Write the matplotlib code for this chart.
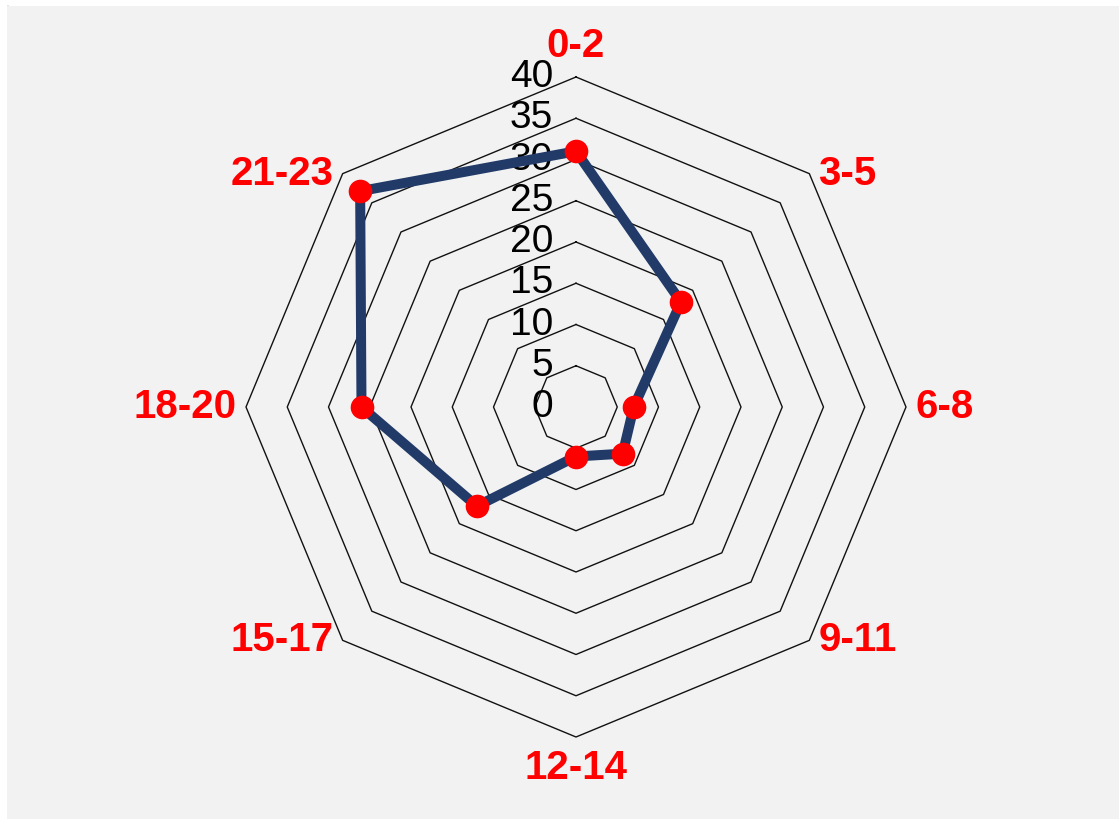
import numpy as np
import matplotlib
matplotlib.use("Agg")
from matplotlib import pyplot as plt, patches

categories = ["0-2", "3-5", "6-8", "9-11", "12-14", "15-17", "18-20", "21-23"]
values = [31, 18, 7, 8, 6, 17, 26, 37]
levels = [5, 10, 15, 20, 25, 30, 35, 40]
tick_labels = ["0", "5", "10", "15", "20", "25", "30", "35", "40"]

W, H = 1119, 819
CX, CY = 576, 407          # centre of the web, pixels
PX = 8.25                  # pixels per unit

fig = plt.figure(figsize=(W / 100, H / 100), dpi=100)
fig.patch.set_facecolor("white")
fig.patches.append(patches.Rectangle((7 / W, 0), 1 - 7 / W, 1 - 6 / H, transform=fig.transFigure,
                                     facecolor="#f2f2f2", edgecolor="none", zorder=-1))
fig.lines.append(plt.Line2D([7.5 / W, 7.5 / W], [0, 1 - 6 / H], transform=fig.transFigure,
                            color="#cfd9e6", lw=1.2, zorder=-1))
fig.lines.append(plt.Line2D([7.5 / W, 1], [1 - 6.5 / H, 1 - 6.5 / H], transform=fig.transFigure,
                            color="#dde4ee", lw=1.2, zorder=-1))

ax = fig.add_axes([0, 0, 1, 1])
ax.set_xlim(-CX / PX, (W - CX) / PX)
ax.set_ylim(-(H - CY) / PX, CY / PX)
ax.axis("off")

n = len(categories)
angles = np.arange(n) * 2 * np.pi / n
ring_angles = np.append(angles, angles[0])

# octagon grid
for lv in levels:
    ax.plot(lv * np.sin(ring_angles), lv * np.cos(ring_angles), color="#111111", lw=1.0, zorder=1)

# radial value labels
for i, t in enumerate(tick_labels):
    ax.text(-2.8, i * 5, t, ha="right", va="center", fontsize=28,
            family="Liberation Sans", color="black", zorder=2)

# data
vals = np.array(values + values[:1], dtype=float)
ax.plot(vals * np.sin(ring_angles), vals * np.cos(ring_angles), color="#213a68", lw=7.2,
        solid_joinstyle="miter", zorder=3)
ax.plot(np.array(values) * np.sin(angles), np.array(values) * np.cos(angles), "o",
        color="#ff0000", markersize=16, zorder=4)

# category labels
rmax = levels[-1]
for a, lab in zip(angles, categories):
    x, y = rmax * np.sin(a), rmax * np.cos(a)
    s = np.sin(a)
    if abs(s) < 1e-6:
        ha = "center"
        y += 3.8 if np.cos(a) > 0 else -3.8
    elif s > 0:
        ha = "left"
        x += 1.1
    else:
        ha = "right"
        x -= 1.1
    ax.text(x, y, lab, ha=ha, va="center", fontsize=29, fontweight="bold",
            family="Liberation Sans", color="#ff0000", zorder=5)

fig.savefig("out.png", dpi=100, facecolor=fig.get_facecolor())
